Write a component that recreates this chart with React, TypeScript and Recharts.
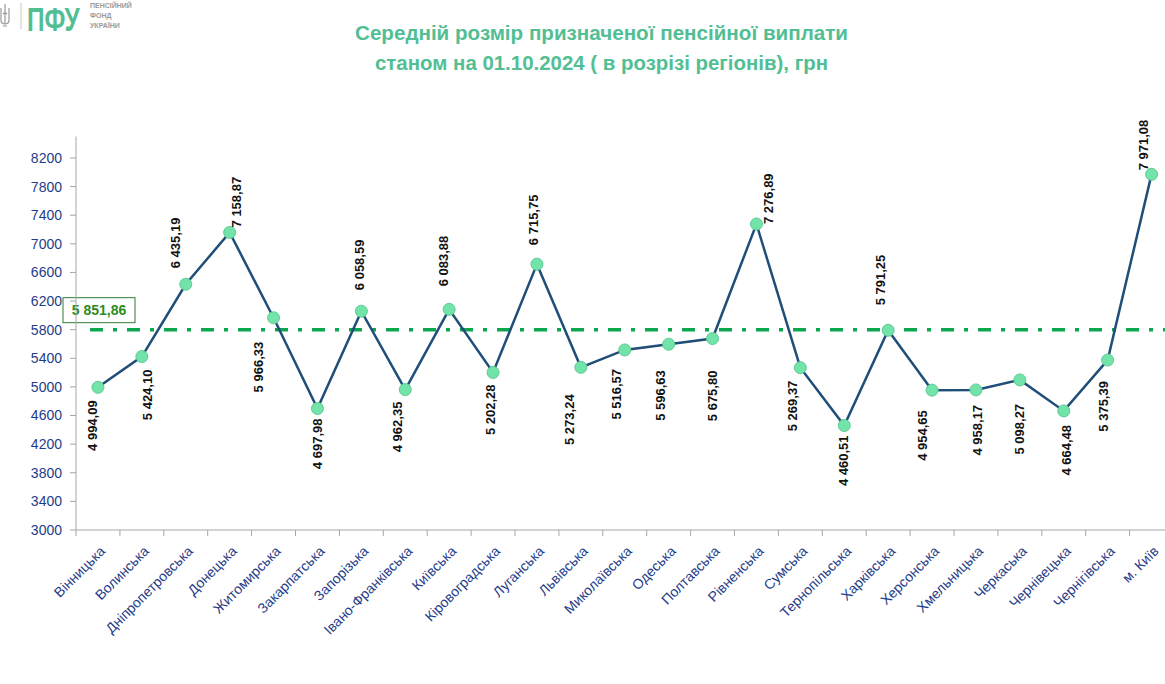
import React from 'react';
import { LineChart, Line, XAxis, YAxis, ReferenceLine } from 'recharts';

// ---------- data ----------
const regions = [
  'Вінницька', 'Волинська', 'Дніпропетровська', 'Донецька', 'Житомирська',
  'Закарпатська', 'Запорізька', 'Івано-Франківська', 'Київська', 'Кіровоградська',
  'Луганська', 'Львівська', 'Миколаївська', 'Одеська', 'Полтавська',
  'Рівненська', 'Сумська', 'Тернопільська', 'Харківська', 'Херсонська',
  'Хмельницька', 'Черкаська', 'Чернівецька', 'Чернігівська', 'м. Київ',
];

const pensionValues = [
  4994.09, 5424.10, 6435.19, 7158.87, 5966.33,
  4697.98, 6058.59, 4962.35, 6083.88, 5202.28,
  6715.75, 5273.24, 5516.57, 5596.63, 5675.80,
  7276.89, 5269.37, 4460.51, 5791.25, 4954.65,
  4958.17, 5098.27, 4664.48, 5375.39, 7971.08,
];

const yTicks = [3000, 3400, 3800, 4200, 4600, 5000, 5400, 5800, 6200, 6600, 7000, 7400, 7800, 8200];
const yDomain = [3000, 8500];

const averageValue = 5851.86;
const averageLineLevel = 5800;

const titleLines = [
  'Середній розмір призначеної пенсійної виплати',
  'станом на 01.10.2024 ( в розрізі регіонів), грн',
];

const logoMark = 'ПФУ';
const logoWords = ['ПЕНСІЙНИЙ', 'ФОНД', 'УКРАЇНИ'];

// label placement (style): side, x-offset, gap from point
const labelPlacement: [string, number, number][] = [
  ['below', -6, 13], ['below', 6, 13], ['above', -10, 16], ['above', 7, 5], ['below', -15, 24],
  ['below', 0, 10], ['above', -2, 21], ['below', -8, 12], ['above', -6, 23], ['below', -3, 12],
  ['above', -4, 19], ['below', -11, 27], ['below', -8, 19], ['below', -8, 26], ['below', 0, 32],
  ['above', 12, 0], ['below', -8, 13], ['below', -1, 10], ['above', -8, 25], ['below', -10, 20],
  ['below', 1, 15], ['below', 0, 24], ['below', 3, 14], ['below', -4, 21], ['above', -8, 4],
];

const data = regions.map((region, i) => ({ region, value: pensionValues[i] }));

// ---------- layout ----------
const CHART_W = 1180;
const CHART_H = 684;
const MARGIN = { top: 136.5, right: 6.5, bottom: 54, left: 0 };
const Y_AXIS_W = 76;
const X_AXIS_H = 100;
const PLOT_LEFT = MARGIN.left + Y_AXIS_W;
const PLOT_RIGHT = CHART_W - MARGIN.right;
const PLOT_BOTTOM = CHART_H - MARGIN.bottom - X_AXIS_H;
const BAND = (PLOT_RIGHT - PLOT_LEFT) / regions.length;

const FONT = '"Liberation Sans", Arial, sans-serif';
const NAVY = '#1F3C88';
const AXIS_GRAY = '#A6A6A6';
const TITLE_GREEN = '#52BE94';

const fmt = (v: number) => {
  const [intPart, dec] = v.toFixed(2).split('.');
  return intPart.replace(/\B(?=(\d{3})+(?!\d))/g, ' ') + ',' + dec;
};

const renderValueLabel = (props: any) => {
  const { x, y, index, value } = props;
  const p = labelPlacement[index] || ['above', 0, 10];
  const side = p[0];
  const cx = x + p[1] + 4.6;
  const ay = side === 'above' ? y - p[2] : y + p[2];
  return (
    <text
      key={`lbl-${index}`}
      x={cx}
      y={ay}
      transform={`rotate(-90 ${cx} ${ay})`}
      textAnchor={side === 'above' ? 'start' : 'end'}
      fontSize={13}
      fontWeight="bold"
      fontFamily={FONT}
      fill="#111"
    >
      {fmt(value)}
    </text>
  );
};

const XTick = (props: any) => {
  const { x, payload } = props;
  const ax = x + 8;
  const ay = PLOT_BOTTOM + 22;
  return (
    <g>
      <line x1={x - BAND / 2} x2={x - BAND / 2} y1={PLOT_BOTTOM} y2={PLOT_BOTTOM + 6} stroke={AXIS_GRAY} strokeWidth={1} />
      <text
        x={ax}
        y={ay}
        transform={`rotate(-45 ${ax} ${ay})`}
        textAnchor="end"
        fontSize={14}
        fontFamily={FONT}
        fill={NAVY}
      >
        {payload.value}
      </text>
    </g>
  );
};

const AverageLineShape = (props: any) => {
  const { x1, y1, x2 } = props;
  if (x1 == null || y1 == null) return null;
  return (
    <g>
      <line
        x1={x1 + 14}
        y1={y1}
        x2={x2}
        y2={y1}
        stroke="#0BA64E"
        strokeWidth={3.5}
        strokeDasharray="13 10 4 10"
      />
      <rect x={x1 - 13} y={y1 - 32} width={72} height={25} fill="#fff" stroke="#2E7D32" strokeWidth={1} />
      <text
        x={x1 + 23}
        y={y1 - 19.5}
        textAnchor="middle"
        dominantBaseline="central"
        fontSize={14}
        fontWeight="bold"
        fontFamily={FONT}
        fill="#2E8B1E"
      >
        {fmt(averageValue)}
      </text>
    </g>
  );
};

export default function App() {
  return (
    <div style={{ position: 'absolute', left: 0, top: 0, width: 1165, height: 684, overflow: 'hidden', background: '#fff' }}>
      <div style={{ position: 'absolute', left: 0, top: 0 }}>
        <LineChart width={CHART_W} height={CHART_H} data={data} margin={MARGIN}>
          <XAxis
            dataKey="region"
            interval={0}
            height={X_AXIS_H}
            padding={{ left: BAND / 2, right: BAND / 2 }}
            tickLine={false}
            axisLine={{ stroke: AXIS_GRAY, strokeWidth: 1 }}
            tick={<XTick />}
          />
          <YAxis
            type="number"
            domain={yDomain}
            ticks={yTicks}
            width={Y_AXIS_W}
            allowDataOverflow
            tickSize={6}
            tickMargin={8}
            axisLine={{ stroke: AXIS_GRAY, strokeWidth: 1 }}
            tickLine={{ stroke: AXIS_GRAY, strokeWidth: 1 }}
            tick={{ fontSize: 14, fill: NAVY, fontFamily: FONT }}
          />
          <ReferenceLine y={averageLineLevel} shape={<AverageLineShape />} />
          <Line
            type="linear"
            dataKey="value"
            stroke="#1F4E79"
            strokeWidth={2.5}
            dot={{ r: 6, fill: '#72E4A9', stroke: '#5FCB95', strokeWidth: 1 }}
            activeDot={false}
            isAnimationActive={false}
            label={renderValueLabel}
          />
        </LineChart>
      </div>
      <svg width={1165} height={90} style={{ position: 'absolute', left: 0, top: 0 }}>
        {/* trident */}
        <g fill="none" stroke="#9A9A9A" strokeWidth={1.2}>
          <path d="M5 4 L5 24 M1 8 L1 20 Q1 24 5 24 Q9 24 9 20 L9 8 M3 14 Q5 12 7 14 M3 26 L7 26" />
        </g>
        <line x1={21} y1={3} x2={21} y2={29} stroke="#C8C8C8" strokeWidth={1} />
        <g transform="translate(27 31) scale(0.74 1)">
          <text x={0} y={0} fontSize={33} fontWeight="bold" fontFamily={FONT} fill={TITLE_GREEN}>
            {logoMark}
          </text>
        </g>
        {logoWords.map((w, i) => (
          <text key={w} x={90} y={8 + i * 10} fontSize={7} fontWeight="bold" fontFamily={FONT} fill="#9A9A9A">
            {w}
          </text>
        ))}
        {titleLines.map((t, i) => (
          <text
            key={i}
            x={601.5}
            y={40 + i * 30}
            textAnchor="middle"
            fontSize={21}
            fontWeight="bold"
            fontFamily={FONT}
            fill={TITLE_GREEN}
            textLength={i === 0 ? 493 : 453}
            lengthAdjust="spacingAndGlyphs"
          >
            {t}
          </text>
        ))}
      </svg>
    </div>
  );
}
